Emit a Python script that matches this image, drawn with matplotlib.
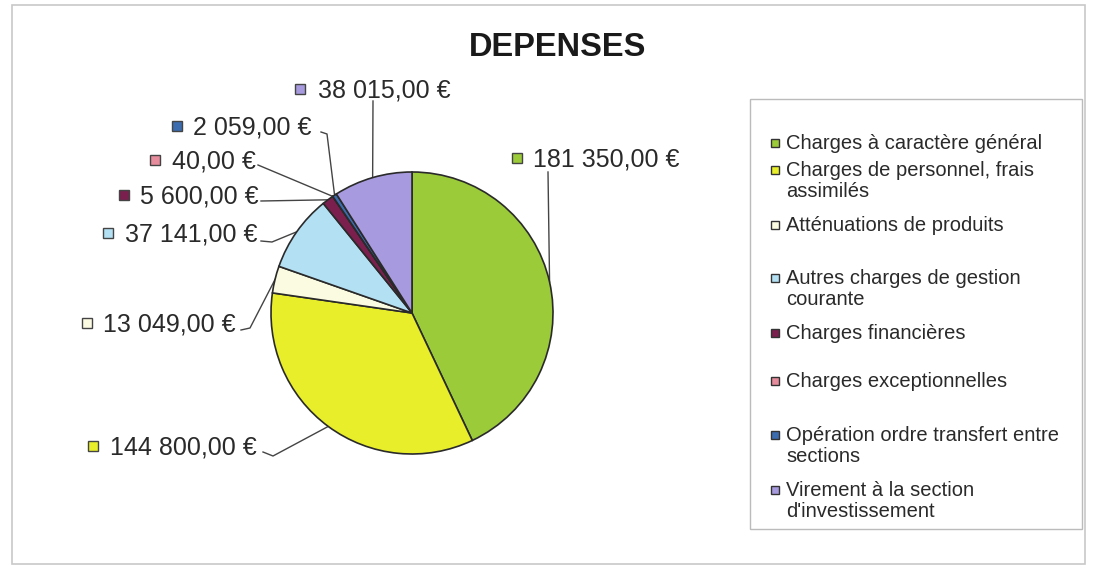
import matplotlib
matplotlib.use("Agg")
import matplotlib.pyplot as plt
import numpy as np
from matplotlib.patches import Rectangle

plt.rcParams['font.family'] = ['Liberation Sans', 'DejaVu Sans']

# ---- data ----
categories = [
    "Charges à caractère général",
    "Charges de personnel, frais\nassimilés",
    "Atténuations de produits",
    "Autres charges de gestion\ncourante",
    "Charges financières",
    "Charges exceptionnelles",
    "Opération ordre transfert entre\nsections",
    "Virement à la section\nd'investissement",
]
values = [181350, 144800, 13049, 37141, 5600, 40, 2059, 38015]
value_labels = ["181 350,00 €", "144 800,00 €", "13 049,00 €", "37 141,00 €",
                "5 600,00 €", "40,00 €", "2 059,00 €", "38 015,00 €"]
colors = ["#9ccb3a", "#e8ee2a", "#fbfbe2", "#b4e0f4",
          "#7a1f4e", "#e68c9c", "#3c6cb0", "#a89ade"]
title = "DEPENSES"

# ---- layout (pixels) ----
W, H = 1096, 569
cx, cy, R = 412, 313, 141

fig = plt.figure(figsize=(W / 100, H / 100), dpi=100)
fig.patch.set_facecolor("white")

# overlay axes in pixel coordinates
ov = fig.add_axes([0, 0, 1, 1], zorder=1)
ov.set_xlim(0, W)
ov.set_ylim(H, 0)
ov.axis("off")
ov.patch.set_alpha(0)

# pie axes
pax = fig.add_axes([(cx - R) / W, (H - cy - R) / H, 2 * R / W, 2 * R / H], zorder=2)
wedges, _ = pax.pie(values, colors=colors, startangle=90, counterclock=False,
                    radius=1.0,
                    wedgeprops=dict(edgecolor="#2a2a2a", linewidth=1.2))
pax.set_xlim(-1, 1)
pax.set_ylim(-1, 1)
pax.set_aspect("equal")
pax.axis("off")

# outer frame
ov.add_patch(Rectangle((12, 5), 1073, 559, fill=False, edgecolor="#c8c8c8", lw=1.2))

# title
ov.text(558, 47, title, ha="center", va="center", fontsize=23.5, fontweight="bold",
        color="#1a1a1a")

# data labels with leader lines
# (marker x, text x, text y, leader start, optional elbow)
label_layout = [
    (517, 533, 158, (548, 172), None),
    (93, 110, 446, (263, 452), (273, 456)),
    (87, 103, 323, (241, 330), (250, 328)),
    (108, 125, 233, (261, 241), (272, 242)),
    (124, 140, 195, (261, 201), None),
    (155, 172, 160, (258, 165), None),
    (177, 193, 126, (321, 132), (327, 134)),
    (300, 318, 89, (373, 101), None),
]

total = float(sum(values))
angle = 90.0
for i, v in enumerate(values):
    span = 360.0 * v / total
    mid = np.deg2rad(angle - span / 2)
    angle -= span
    ex, ey = cx + R * np.cos(mid), cy - R * np.sin(mid)
    mx, tx, ty, start, elbow = label_layout[i]
    pts = [start] + ([elbow] if elbow else []) + [(ex, ey)]
    xs, ys = zip(*pts)
    ov.plot(xs, ys, color="#444444", lw=1.0, zorder=1)
    ov.add_patch(Rectangle((mx - 5, ty - 5), 10, 10, facecolor=colors[i],
                           edgecolor="#444444", lw=1.0))
    ov.text(tx, ty + 8, value_labels[i], ha="left", va="baseline", fontsize=18,
            color="#2a2a2a")

# legend box
ov.add_patch(Rectangle((750, 99), 332, 430, fill=False, edgecolor="#bbbbbb", lw=1.0))
legend_y = [143, 170, 225, 278, 333, 381, 435, 490]
for i, cat in enumerate(categories):
    y = legend_y[i]
    ov.add_patch(Rectangle((771, y - 4), 8, 8, facecolor=colors[i],
                           edgecolor="#333333", lw=1.0))
    ov.text(786, y - 9, cat, ha="left", va="top", fontsize=14.5, color="#2a2a2a",
            linespacing=1.15)

fig.savefig("out.png", dpi=100, facecolor="white")
